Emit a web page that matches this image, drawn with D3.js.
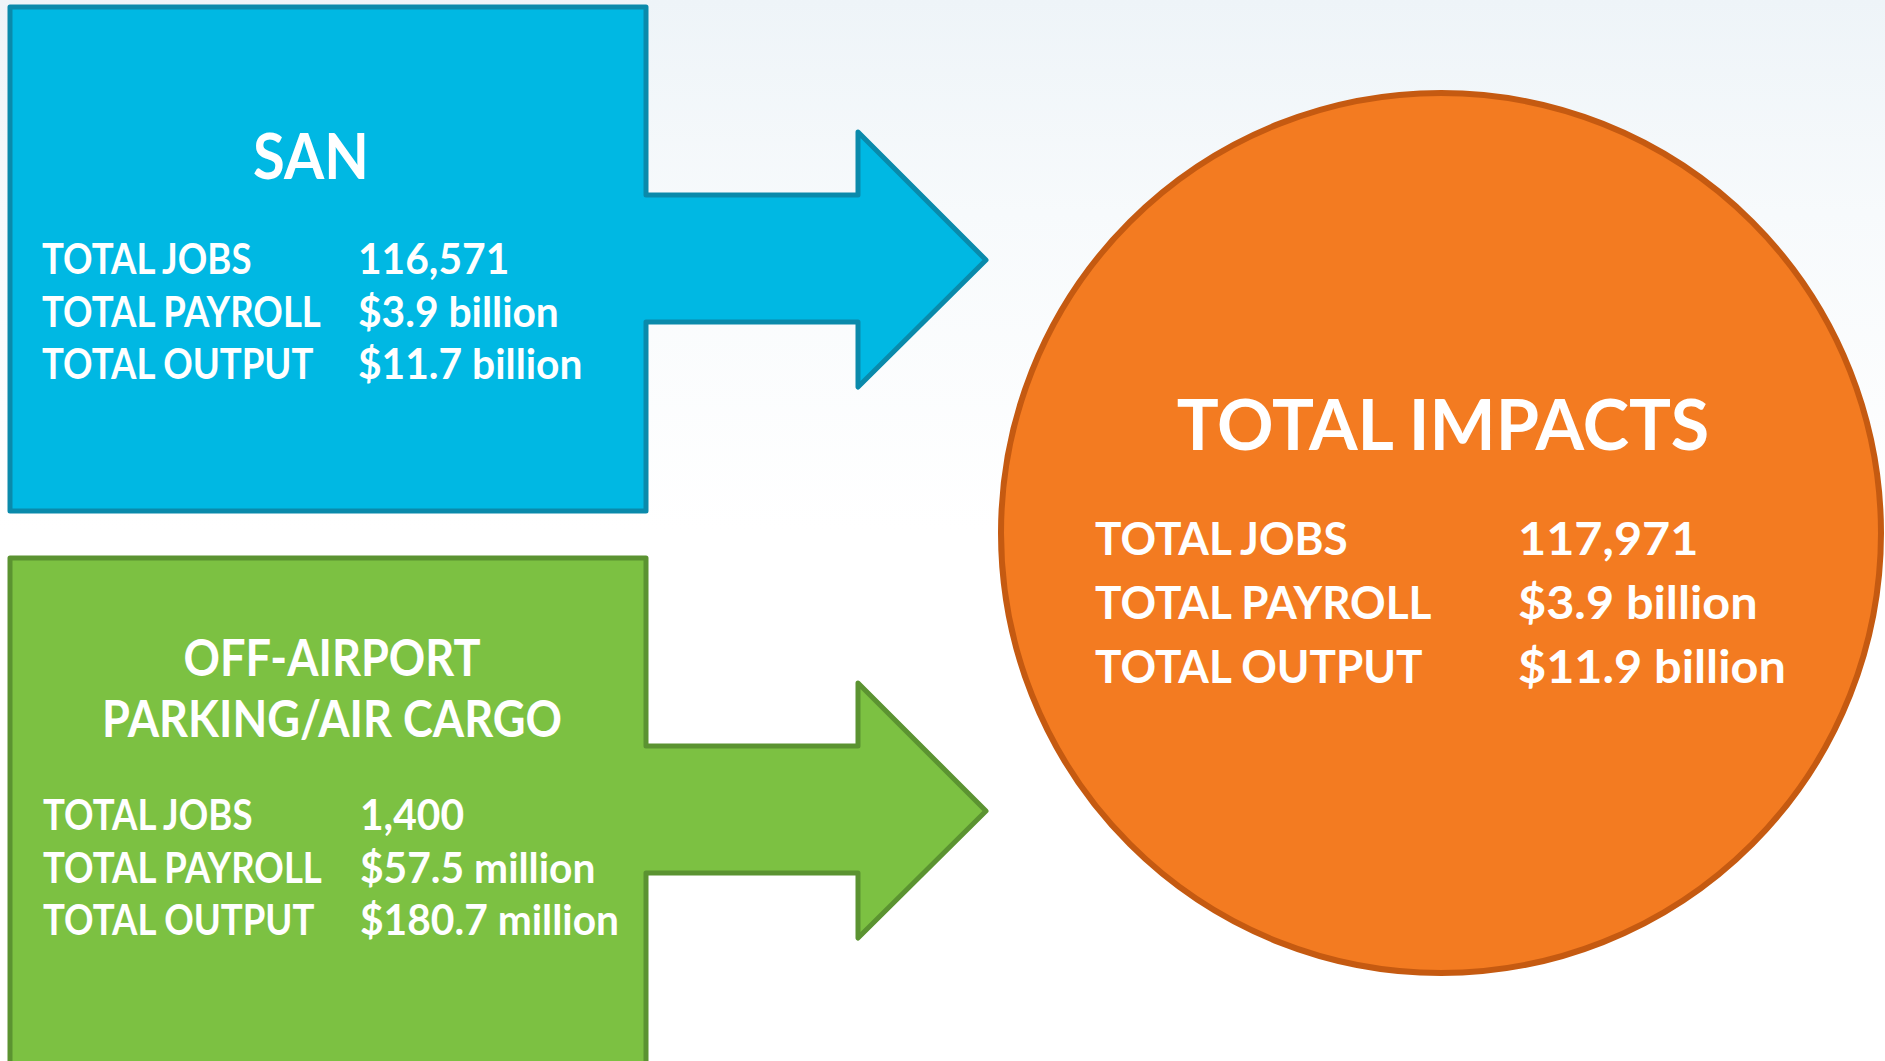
<!DOCTYPE html>
<html lang="en">
<head>
<meta charset="utf-8">
<title>Total Impacts</title>
<script src="https://d3js.org/d3.v7.min.js"></script>
<style>
	html, body { margin: 0; padding: 0; overflow: hidden; }
	text { font-family: Lato, "Open Sans", sans-serif; font-weight: 700; fill: #ffffff; }
</style>
</head>
<body>
<div id="chart"></div>
<script>
// data
const metricLabels = ["TOTAL JOBS", "TOTAL PAYROLL", "TOTAL OUTPUT"];
const sourceNames = ["SAN", "OFF-AIRPORT PARKING/AIR CARGO"];
const sourceTitleLines = [["SAN"], ["OFF-AIRPORT", "PARKING/AIR CARGO"]];
const sanValues = ["116,571", "$3.9 billion", "$11.7 billion"];
const offAirportValues = ["1,400", "$57.5 million", "$180.7 million"];
const totalTitle = "TOTAL IMPACTS";
const totalValues = ["117,971", "$3.9 billion", "$11.9 billion"];

const width = 1885, height = 1061;

const svg = d3.select("#chart").append("svg")
	.attr("width", width)
	.attr("height", height);

// soft sky background
const defs = svg.append("defs");
const bg = defs.append("linearGradient")
	.attr("id", "sky").attr("x1", 0).attr("y1", 0).attr("x2", 0).attr("y2", 1);
bg.selectAll("stop")
	.data([{o: "0%", c: "#eef4f8"}, {o: "20%", c: "#f7fafc"}, {o: "50%", c: "#ffffff"}])
	.enter().append("stop")
	.attr("offset", d => d.o)
	.attr("stop-color", d => d.c);
svg.append("rect").attr("width", width).attr("height", height).attr("fill", "url(#sky)");

// places a text with a horizontal squeeze around its x anchor
function squeezed(sel, x, y, sx) {
	return sel.attr("x", 0).attr("y", 0)
		.attr("transform", `translate(${x},${y}) scale(${sx},1)`);
}

// source blocks
const sourceY = d3.scaleOrdinal().domain(sourceNames).range([7, 558]);
const sourceColors = d3.scaleOrdinal().domain(sourceNames).range(["#00b8e3", "#7cc142"]);
const sourceStroke = d3.scaleOrdinal().domain(sourceNames).range(["#0a8aab", "#5b9331"]);
const sourceBottom = d3.scaleOrdinal().domain(sourceNames).range([511, 1075]);
const sourceValues = d3.scaleOrdinal().domain(sourceNames).range([sanValues, offAirportValues]);

const boxLeft = 10, boxRight = 646, headX = 858, tipX = 986;

function arrowShape(name) {
	const t = sourceY(name), b = sourceBottom(name);
	return [
		[boxLeft, t], [boxRight, t], [boxRight, t + 188], [headX, t + 188],
		[headX, t + 125], [tipX, t + 253], [headX, t + 380], [headX, t + 315],
		[boxRight, t + 315], [boxRight, b], [boxLeft, b]
	];
}
const shapeLine = d3.line().curve(d3.curveLinearClosed);

const blocks = svg.selectAll("g.source")
	.data(sourceNames)
	.enter().append("g")
	.attr("class", "source");

blocks.append("path")
	.attr("d", d => shapeLine(arrowShape(d)))
	.attr("fill", d => sourceColors(d))
	.attr("stroke", d => sourceStroke(d))
	.attr("stroke-width", 5)
	.attr("stroke-linejoin", "round");

// titles
const titleSize = d3.scaleOrdinal().domain(sourceNames).range([63, 51]);
const titleScale = d3.scaleOrdinal().domain(sourceNames).range([0.92, 0.885]);
const titleY = d3.scaleOrdinal().domain(sourceNames).range([[179], [676, 737]]);
const titleX = d3.scaleOrdinal().domain(sourceNames).range([311, 332]);
blocks.each(function(name, i) {
	const g = d3.select(this);
	g.selectAll("text.title")
		.data(sourceTitleLines[i])
		.enter().append("text")
		.attr("class", "title")
		.attr("text-anchor", "middle")
		.style("font-size", titleSize(name) + "px")
		.text(d => d)
		.each(function(d, j) { squeezed(d3.select(this), titleX(name), titleY(name)[j], titleScale(name)); });

	// metric rows
	const rowTop = i === 0 ? 274 : 830;
	const rowY = d3.scalePoint().domain(metricLabels).range([rowTop, rowTop + 105]);
	const rows = g.selectAll("g.row")
		.data(metricLabels)
		.enter().append("g")
		.attr("class", "row");
	rows.append("text")
		.style("font-size", "42px")
		.text(d => d)
		.each(function(d) { squeezed(d3.select(this), i === 0 ? 42 : 43, rowY(d), 0.87); });
	rows.append("text")
		.style("font-size", "42px")
		.text((d, j) => sourceValues(name)[j])
		.each(function(d) { squeezed(d3.select(this), i === 0 ? 358 : 360, rowY(d), 0.97); });
});

// total impacts circle
const cx = 1441, cy = 533, r = 440;
const total = svg.append("g").attr("class", "total");
total.append("circle")
	.attr("cx", cx).attr("cy", cy).attr("r", r)
	.attr("fill", "#f37b21")
	.attr("stroke", "#c55a11")
	.attr("stroke-width", 6);

total.append("text")
	.attr("x", cx + 2).attr("y", 450)
	.attr("text-anchor", "middle")
	.style("font-size", "70px")
	.text(totalTitle);

const totalRowY = d3.scalePoint().domain(metricLabels).range([555, 683]);
const totalRows = total.selectAll("g.row")
	.data(metricLabels)
	.enter().append("g")
	.attr("class", "row");
totalRows.append("text")
	.style("font-size", "45px")
	.text(d => d)
	.each(function(d) { squeezed(d3.select(this), 1095, totalRowY(d), 0.98); });
totalRows.append("text")
	.style("font-size", "45px")
	.text((d, j) => totalValues[j])
	.each(function(d) { squeezed(d3.select(this), 1518, totalRowY(d), 1.08); });
</script>
</body>
</html>
